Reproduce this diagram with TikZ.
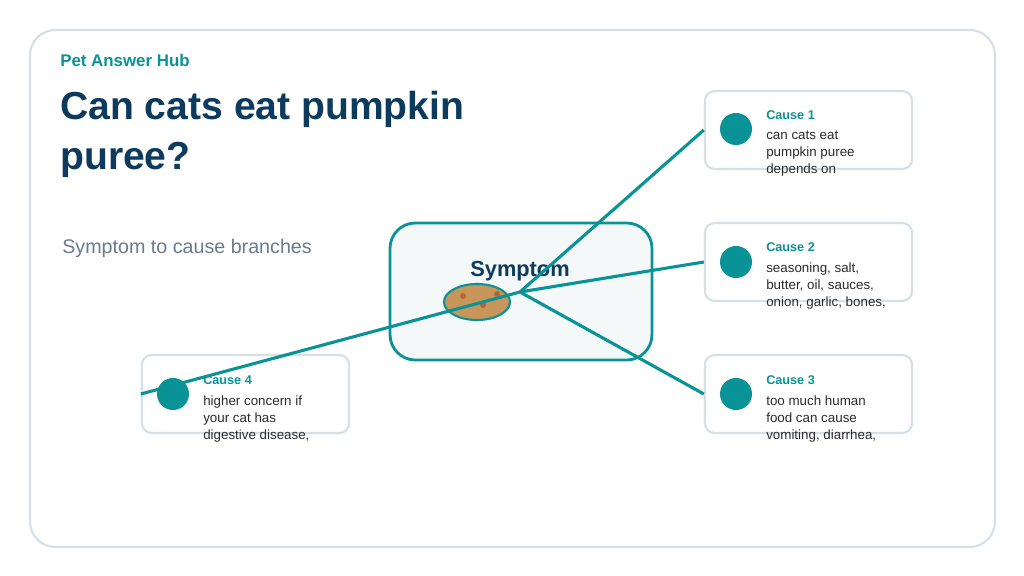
\documentclass[tikz,border=0pt]{standalone}
\usepackage{fontspec}
\setmainfont{Liberation Sans}
\usetikzlibrary{positioning}
\definecolor{teal1}{HTML}{0A9396}
\definecolor{navy}{HTML}{0D3B5E}
\definecolor{frame}{HTML}{D5DFE6}
\definecolor{muted}{HTML}{6B7A8C}
\definecolor{pale}{HTML}{F4F8F9}
\definecolor{pumpkin}{HTML}{C8965A}
\definecolor{seed}{HTML}{B5653A}
\definecolor{body}{HTML}{2B2B2B}
\tikzset{
  causebox/.style={draw=frame,line width=1.5pt,fill=white,rounded corners=7pt,minimum width=5.18cm,minimum height=1.95cm},
  branch/.style={teal1,line width=2.2pt},
  dot/.style={circle,fill=teal1,minimum size=0.8cm,inner sep=0pt},
  head/.style={teal1,font=\bfseries\fontsize{9}{11}\selectfont,anchor=west,inner sep=0pt},
  txt/.style={body,font=\fontsize{9.5}{12}\selectfont,align=left,anchor=north west,inner sep=0pt}
}
\begin{document}
\begin{tikzpicture}[x=0.025cm,y=-0.025cm]
\useasboundingbox (0,0) rectangle (1024,576);
\draw[frame,line width=1.5pt,fill=white,rounded corners=18pt] (30,30) rectangle (995,547);

\node[teal1,anchor=west,font=\bfseries\fontsize{12}{14}\selectfont,inner sep=0pt] (brand) at (60,60) {Pet Answer Hub};
\node[navy,anchor=north west,align=left,font=\bfseries\fontsize{27.8}{35.5}\selectfont,inner sep=0pt] (title) at (60,91) {Can cats eat pumpkin\\puree?};
\node[muted,anchor=west,font=\fontsize{14}{16}\selectfont,inner sep=0pt] (sub) at (62,248) {Symptom to cause branches};

% centre
\draw[teal1,line width=2pt,fill=pale,rounded corners=18pt] (390,223) rectangle (652,360);
\node[navy,font=\bfseries\fontsize{15.5}{18}\selectfont] (symptom) at (520,271) {Symptom};
\draw[teal1,line width=1.5pt,fill=pumpkin] (477,302) ellipse (33 and 18);
\fill[seed] (463,296) circle (3) (497,294) circle (3) (483,305) circle (3);
\coordinate (hub) at (520,292);

% cause boxes
\node[causebox] (c1) at (808.5,130) {};
\node[causebox] (c2) at (808.5,262) {};
\node[causebox] (c3) at (808.5,394) {};
\node[causebox] (c4) at (245.5,394) {};

\draw[branch] (hub) -- (c1.west);
\draw[branch] (hub) -- (c2.west);
\draw[branch] (hub) -- (c3.west);
\draw[branch] (hub) -- (c4.west);

\node[dot] (d1) at (736,129) {};
\node[dot] (d2) at (736,262) {};
\node[dot] (d3) at (736,394) {};
\node[dot] (d4) at (173,394) {};

\node[head] at (766,115) {Cause 1};
\node[txt] at (766,131) {can cats eat\\pumpkin puree\\depends on};
\node[head] at (766,247) {Cause 2};
\node[txt] at (766,263) {seasoning, salt,\\butter, oil, sauces,\\onion, garlic, bones,};
\node[head] at (766,380) {Cause 3};
\node[txt] at (766,396) {too much human\\food can cause\\vomiting, diarrhea,};
\node[head] at (203,380) {Cause 4};
\node[txt] at (203,396) {higher concern if\\your cat has\\digestive disease,};
\end{tikzpicture}
\end{document}
